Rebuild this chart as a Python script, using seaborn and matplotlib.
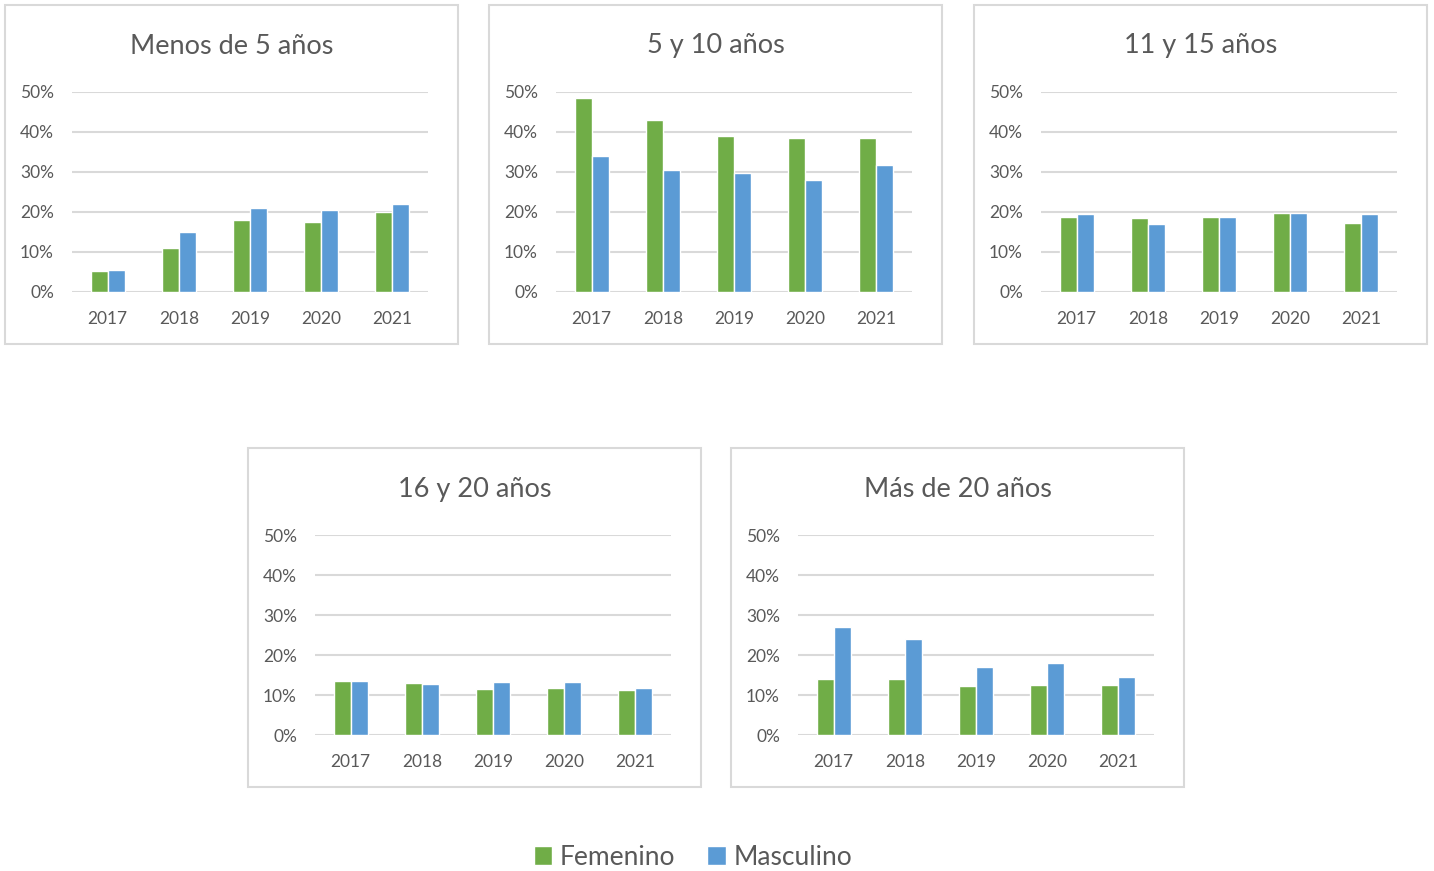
import matplotlib
matplotlib.use("Agg")
import matplotlib.pyplot as plt
import matplotlib.patches as mpatches
from matplotlib.ticker import PercentFormatter
import seaborn as sns
import pandas as pd

years = ['2017', '2018', '2019', '2020', '2021']
groups = ['Menos de 5 años', '5 y 10 años', '11 y 15 años', '16 y 20 años', 'Más de 20 años']

femenino = {
    'Menos de 5 años': [5.2, 11.1, 18.0, 17.4, 20.0],
    '5 y 10 años': [48.5, 43.1, 39.1, 38.4, 38.6],
    '11 y 15 años': [18.7, 18.4, 18.7, 19.8, 17.2],
    '16 y 20 años': [13.4, 12.9, 11.6, 11.8, 11.3],
    'Más de 20 años': [13.9, 13.9, 12.2, 12.4, 12.4],
}
masculino = {
    'Menos de 5 años': [5.6, 15.0, 21.0, 20.5, 22.0],
    '5 y 10 años': [34.0, 30.4, 29.7, 28.0, 31.7],
    '11 y 15 años': [19.5, 17.1, 18.7, 19.8, 19.5],
    '16 y 20 años': [13.6, 12.8, 13.3, 13.3, 11.8],
    'Más de 20 años': [27.0, 24.1, 16.9, 17.9, 14.6],
}

colors = {'Femenino': '#70ad47', 'Masculino': '#5b9bd5'}
text_color = '#595959'
grid_color = '#d9d9d9'

sns.set_style('white')
plt.rcParams['font.family'] = ['Lato', 'DejaVu Sans']

W, H = 1434, 871
fig = plt.figure(figsize=(W / 100, H / 100), dpi=100)

# panel top-left corners in pixels
panels = [(5, 5), (489, 5), (974, 5), (248, 448), (731, 448)]
pw, ph = 453, 339

handles = None
for g, (px, py) in zip(groups, panels):
    # frame of each chart
    fig.add_artist(mpatches.Rectangle((px / W, 1 - (py + ph) / H), pw / W, ph / H,
                                      transform=fig.transFigure, fill=False,
                                      edgecolor=grid_color, linewidth=1.5))
    ax_l, ax_t = px + 67, py + 87
    ax = fig.add_axes([ax_l / W, 1 - (ax_t + 200) / H, 356 / W, 200 / H])
    df = pd.DataFrame({
        'year': years * 2,
        'sexo': ['Femenino'] * 5 + ['Masculino'] * 5,
        'valor': femenino[g] + masculino[g],
    })
    sns.barplot(data=df, x='year', y='valor', hue='sexo', palette=colors,
                width=0.48, ax=ax, saturation=1, legend=True)
    h, l = ax.get_legend_handles_labels()
    if handles is None:
        handles = (h, l)
    ax.get_legend().remove()
    ax.set_xlim(-0.5, 4.5)
    ax.set_ylim(0, 50)
    ax.set_yticks([0, 10, 20, 30, 40, 50])
    ax.yaxis.set_major_formatter(PercentFormatter(decimals=0))
    ax.grid(axis='y', color=grid_color, linewidth=1.5)
    ax.set_axisbelow(True)
    for s in ax.spines.values():
        s.set_visible(False)
    ax.set_xlabel('')
    ax.set_ylabel('')
    ax.tick_params(axis='both', length=0, labelsize=12.5, colors=text_color)
    ax.tick_params(axis='x', pad=14)
    ax.tick_params(axis='y', pad=13)
    fig.text((px + pw / 2) / W, 1 - (py + 41) / H, g, ha='center', va='center',
             fontsize=19.5, color=text_color)

fig.legend(handles[0], handles[1], loc='center', bbox_to_anchor=(693 / W, 1 - 857 / H),
           ncol=2, frameon=False, fontsize=19, labelcolor=text_color,
           handlelength=0.7, handleheight=0.7, handletextpad=0.3, columnspacing=1.2)

fig.savefig('out.png', dpi=100)
